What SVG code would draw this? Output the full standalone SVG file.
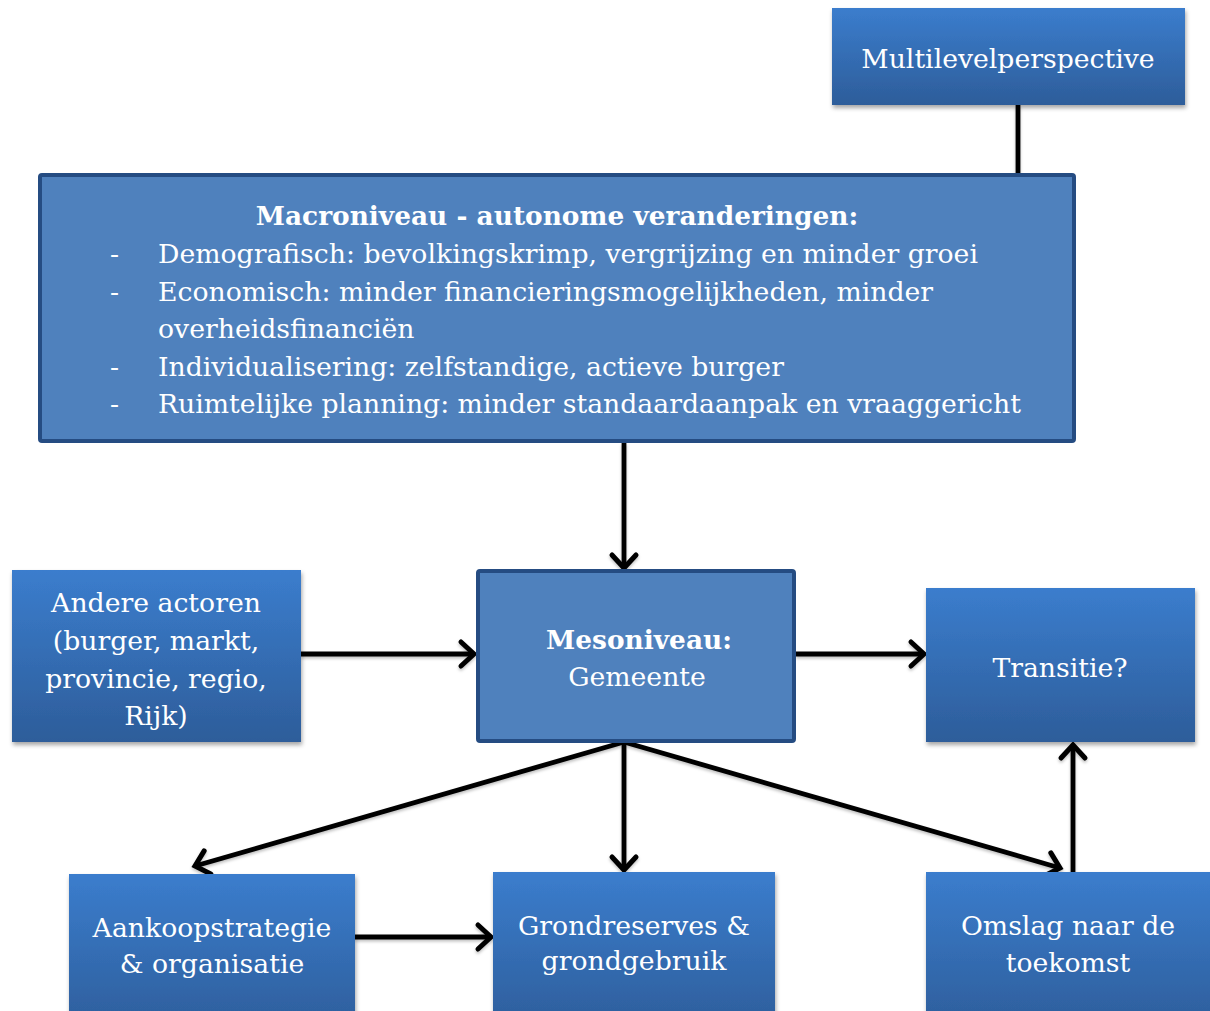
<svg xmlns="http://www.w3.org/2000/svg" width="1210" height="1011" viewBox="0 0 1210 1011">
  <defs>
    <linearGradient id="boxGrad" x1="0" y1="0" x2="0" y2="1">
      <stop offset="0" stop-color="#3b7dcd"/>
      <stop offset="1" stop-color="#2d5d9a"/>
    </linearGradient>
    <filter id="shadow" x="-10%" y="-10%" width="120%" height="130%">
      <feDropShadow dx="1" dy="3" stdDeviation="2" flood-color="#000" flood-opacity="0.35"/>
    </filter>
    <filter id="lineShadow" x="-10%" y="-10%" width="120%" height="130%">
      <feDropShadow dx="0" dy="2" stdDeviation="1.5" flood-color="#000" flood-opacity="0.25"/>
    </filter>
    <marker id="arrow" markerUnits="userSpaceOnUse" markerWidth="30" markerHeight="30" viewBox="-16 -15 20 30" refX="0" refY="0" orient="auto" overflow="visible">
      <path d="M -13 -12 L 0 0 L -13 12" fill="none" stroke="#000" stroke-width="5" stroke-linecap="round" stroke-linejoin="miter"/>
    </marker>
    <style>
      .grad { fill: url(#boxGrad); filter: url(#shadow); }
      .flat { fill: #4f81bd; stroke: #254c82; stroke-width: 4; }
      .lbl { font-family: "DejaVu Serif", "Liberation Serif", serif; font-size: 26.7px; fill: #fff; }
      .mid { text-anchor: middle; }
      .bold { font-weight: bold; font-size: 26.4px; }
      .conn { stroke: #000; stroke-width: 4.8; fill: none; }
    </style>
  </defs>

  <!-- connectors -->
  <g id="connectors" filter="url(#lineShadow)">
    <line class="conn" x1="1018" y1="105" x2="1018" y2="174"/>
    <line class="conn" x1="624" y1="443" x2="624" y2="568" marker-end="url(#arrow)"/>
    <line class="conn" x1="301" y1="654" x2="474" y2="654" marker-end="url(#arrow)"/>
    <line class="conn" x1="796" y1="654" x2="924" y2="654" marker-end="url(#arrow)"/>
    <line class="conn" x1="624" y1="742" x2="195" y2="866" marker-end="url(#arrow)"/>
    <line class="conn" x1="624" y1="742" x2="624" y2="870" marker-end="url(#arrow)"/>
    <line class="conn" x1="624" y1="742" x2="1060" y2="868" marker-end="url(#arrow)"/>
    <line class="conn" x1="1073" y1="872" x2="1073" y2="745" marker-end="url(#arrow)"/>
    <line class="conn" x1="355" y1="937" x2="491" y2="937" marker-end="url(#arrow)"/>
  </g>

  <!-- Multilevelperspective -->
  <g id="mlp">
    <rect class="grad" x="832" y="8" width="353" height="97"/>
    <text class="lbl mid" x="1008" y="68">Multilevelperspective</text>
  </g>

  <!-- Macro level -->
  <g id="macro">
    <rect class="flat" x="40" y="175" width="1034" height="266" rx="2"/>
    <text class="lbl mid bold" x="557" y="225">Macroniveau - autonome veranderingen:</text>
    <g class="lbl">
      <text x="110" y="263">-</text>
      <text x="158" y="263">Demografisch: bevolkingskrimp, vergrijzing en minder groei</text>
      <text x="110" y="301">-</text>
      <text x="158" y="301">Economisch: minder financieringsmogelijkheden, minder</text>
      <text x="158" y="338">overheidsfinanciën</text>
      <text x="110" y="376">-</text>
      <text x="158" y="376">Individualisering: zelfstandige, actieve burger</text>
      <text x="110" y="413">-</text>
      <text x="158" y="413">Ruimtelijke planning: minder standaardaanpak en vraaggericht</text>
    </g>
  </g>

  <!-- Other actors -->
  <g id="actors">
    <rect class="grad" x="12" y="570" width="289" height="172"/>
    <text class="lbl mid" x="156" y="612">Andere actoren</text>
    <text class="lbl mid" x="156" y="650">(burger, markt,</text>
    <text class="lbl mid" x="156" y="688">provincie, regio,</text>
    <text class="lbl mid" x="156" y="725">Rijk)</text>
  </g>

  <!-- Meso level -->
  <g id="meso">
    <rect class="flat" x="478" y="571" width="316" height="170" rx="2"/>
    <text class="lbl mid bold" x="639" y="649">Mesoniveau:</text>
    <text class="lbl mid" x="637" y="686">Gemeente</text>
  </g>

  <!-- Transition -->
  <g id="transitie">
    <rect class="grad" x="926" y="588" width="269" height="154"/>
    <text class="lbl mid" x="1060" y="677">Transitie?</text>
  </g>

  <!-- Purchase strategy -->
  <g id="aankoop">
    <rect class="grad" x="69" y="874" width="286" height="160"/>
    <text class="lbl mid" x="212" y="937">Aankoopstrategie</text>
    <text class="lbl mid" x="212" y="973">&amp; organisatie</text>
  </g>

  <!-- Land reserves -->
  <g id="grond">
    <rect class="grad" x="493" y="872" width="282" height="160"/>
    <text class="lbl mid" x="634" y="935">Grondreserves &amp;</text>
    <text class="lbl mid" x="634" y="970">grondgebruik</text>
  </g>

  <!-- Turnaround -->
  <g id="omslag">
    <rect class="grad" x="926" y="872" width="290" height="160"/>
    <text class="lbl mid" x="1068" y="935">Omslag naar de</text>
    <text class="lbl mid" x="1068" y="972">toekomst</text>
  </g>
</svg>
